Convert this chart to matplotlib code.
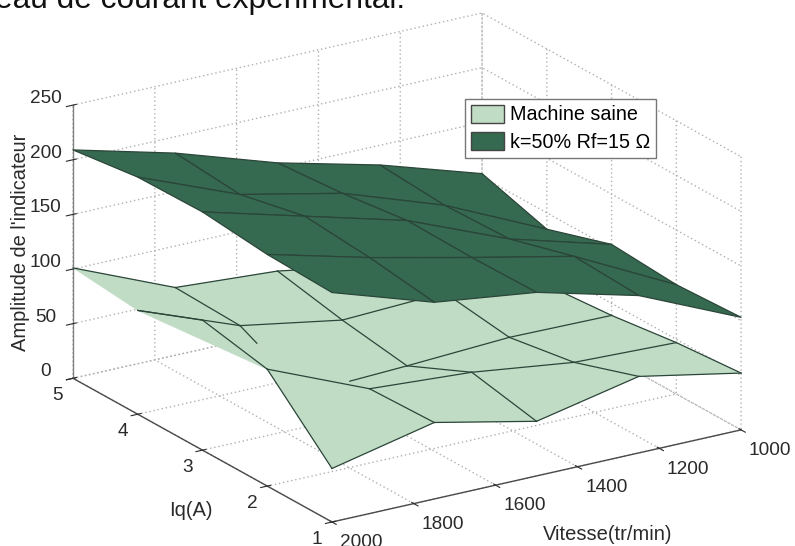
# surfaces of the fault indicator, healthy machine vs faulty machine
import numpy as np
import matplotlib
matplotlib.use('Agg')
import matplotlib.pyplot as plt
from matplotlib.patches import Patch
from mpl_toolkits.mplot3d import proj3d
from mpl_toolkits.mplot3d.art3d import Poly3DCollection

plt.rcParams['font.family'] = ['Liberation Sans', 'DejaVu Sans']

# mesh: rows go with iq_values, columns with speed_values
speed_values = [2000, 1750, 1500, 1250, 1000]
iq_values = [5, 4, 3, 2, 1]

z_saine = [
    [101, 62, 56, 40, 35],
    [95, 60, 44, 48, 34],
    [119, 31, 35, 40, 39],
    [107, 68, 62, 50, 47],
    [49, 70, 50, 70, 52],
]
z_defaut = [
    [209, 185, 155, 132, 103],
    [217, 180, 160, 128, 85],
    [218, 193, 168, 130, 104],
    [212, 188, 167, 147, 100],
    [210, 180, 168, 144, 103],
]

speed_ticks = [1000, 1200, 1400, 1600, 1800, 2000]
iq_ticks = [1, 2, 3, 4, 5]
z_ticks = [0, 50, 100, 150, 200, 250]

# visible mesh lines of the light surface, (row, col) to (row, col) and drawn fraction
saine_lines = [
    (0, 0, 0, 1, 1), (0, 1, 0, 2, 1), (0, 2, 0, 3, 1),
    (1, 0, 1, 1, 1), (1, 1, 1, 2, 1), (1, 2, 1, 3, 1), (1, 3, 1, 4, 1),
    (2, 2, 2, 1, 0.56), (2, 2, 2, 3, 1), (2, 3, 2, 4, 1),
    (3, 0, 3, 1, 1), (3, 1, 3, 2, 1), (3, 2, 3, 3, 1), (3, 3, 3, 4, 1),
    (4, 0, 4, 1, 1), (4, 1, 4, 2, 1), (4, 2, 4, 3, 1), (4, 3, 4, 4, 1),
    (1, 0, 2, 0, 1), (2, 0, 3, 0, 1), (3, 0, 4, 0, 1),
    (0, 1, 1, 1, 1), (1, 1, 2, 1, 0.26), (3, 1, 4, 1, 1),
    (0, 2, 1, 2, 1), (1, 2, 2, 2, 1), (2, 2, 3, 2, 1), (3, 2, 4, 2, 1),
    (0, 3, 1, 3, 1), (1, 3, 2, 3, 1), (2, 3, 3, 3, 1), (3, 3, 4, 3, 1),
    (1, 4, 2, 4, 1), (2, 4, 3, 4, 1), (3, 4, 4, 4, 1),
]

LIGHT = '#c1dcc5'
DARK = '#356950'
LINE = '#2b4639'
TEXT = '#2a2a2a'

fig = plt.figure(figsize=(7.95, 5.46), dpi=100)
ax = fig.add_axes([0.0, 0.0, 1.0, 1.0], projection='3d', proj_type='ortho')
ax.computed_zorder = False
ax.view_init(elev=20.7, azim=-122.5)
ax.set_box_aspect((485, 482, 292))

X, Y = np.meshgrid(speed_values, iq_values)
Z1 = np.array(z_saine, dtype=float)
Z2 = np.array(z_defaut, dtype=float)

ax.plot_surface(X, Y, Z1, rstride=1, cstride=1, color=LIGHT, edgecolor=LIGHT,
                linewidth=0.3, shade=False, zorder=1)

# left rim of the light surface is filled without any mesh line
rim = [(X[r, 0], Y[r, 0], Z1[r, 0]) for r in (1, 2, 3)]
ax.add_collection3d(Poly3DCollection([rim], facecolor=LIGHT, edgecolor=LIGHT,
                                     linewidth=0.3, zorder=1))

for r1, c1, r2, c2, frac in saine_lines:
    xs = [X[r1, c1], X[r1, c1] + frac * (X[r2, c2] - X[r1, c1])]
    ys = [Y[r1, c1], Y[r1, c1] + frac * (Y[r2, c2] - Y[r1, c1])]
    zs = [Z1[r1, c1], Z1[r1, c1] + frac * (Z1[r2, c2] - Z1[r1, c1])]
    ax.plot(xs, ys, zs, color=LINE, linewidth=0.9, zorder=2)

ax.plot_surface(X, Y, Z2, rstride=1, cstride=1, color=DARK, edgecolor=LINE,
                linewidth=0.9, shade=False, zorder=3)

ax.set_xlim(2000, 1000)
ax.set_ylim(1, 5)
ax.set_zlim(0, 250)
ax.set_xticks(speed_ticks)
ax.set_yticks(iq_ticks)
ax.set_zticks(z_ticks)
ax.tick_params(labelsize=13.7, colors=TEXT, pad=3)
ax.tick_params(axis='x', pad=0)
ax.tick_params(axis='y', pad=-1.5)

for label in ax.get_xticklabels():
    label.set_ha('left')
for label in ax.get_yticklabels():
    label.set_ha('right')
for label in ax.get_zticklabels():
    label.set_va('baseline')

for axis, color in ((ax.xaxis, '#4a4a4a'), (ax.yaxis, '#4a4a4a'), (ax.zaxis, '#808080')):
    axis.set_pane_color((1, 1, 1, 0))
    axis.pane.set_edgecolor((1, 1, 1, 0))
    axis.line.set_color(color)
    axis.line.set_linewidth(1.0)
    axis._axinfo['grid'].update(color='#b0b0b0', linestyle=(0, (1, 2)), linewidth=1.0)

fig.text(608 / 795, 1 - 535 / 546, 'Vitesse(tr/min)', fontsize=14.5, color=TEXT,
         ha='center', va='center')
fig.text(191 / 795, 1 - 510 / 546, 'Iq(A)', fontsize=14.5, color=TEXT,
         ha='center', va='center')
fig.text(21 / 795, 1 - 242 / 546, "Amplitude de l'indicateur", fontsize=14.4, color=TEXT,
         ha='center', va='center', rotation=90)


# fit the cube on the wanted pixels: corner (2000, 1, 0) and (1000, 5, 250)
def to_pixels(x, y, z):
    px, py, _ = proj3d.proj_transform(x, y, z, ax.get_proj())
    return ax.transData.transform((px, py))


ax.apply_aspect()
p0 = to_pixels(2000, 1, 0)
p1 = to_pixels(1000, 5, 250)
want0 = np.array([332.0, 546 - 522.0])
want1 = np.array([482.0, 546 - 13.0])
scale = (want1 - want0)[1] / (p1 - p0)[1]
bb = ax.get_position()
side = bb.height * 546 * scale
cx = (bb.x0 + bb.width / 2) * 795
cy = (bb.y0 + bb.height / 2) * 546
new_x = cx * scale + want0[0] - p0[0] * scale
new_y = cy * scale + want0[1] - p0[1] * scale
ax.set_position([(new_x - side / 2) / 795, (new_y - side / 2) / 546, side / 795, side / 546])

handles = [Patch(facecolor=LIGHT, edgecolor='#444444', label='Machine saine'),
           Patch(facecolor=DARK, edgecolor='#444444', label='k=50% Rf=15 Ω')]
fig.legend(handles=handles, loc='upper left', bbox_to_anchor=(465 / 795, 1 - 99 / 546),
           fontsize=14.2, frameon=True, fancybox=False, edgecolor='#777777', framealpha=1,
           borderpad=0.3, labelspacing=0.39, handlelength=1.7, handleheight=1.0,
           handletextpad=0.28, borderaxespad=0)

fig.text(-5 / 795, 1 - 8 / 546, 'eau de courant expérimental.', fontsize=22.8,
         color='#111111', va='baseline')

fig.savefig('out.png', dpi=100)
